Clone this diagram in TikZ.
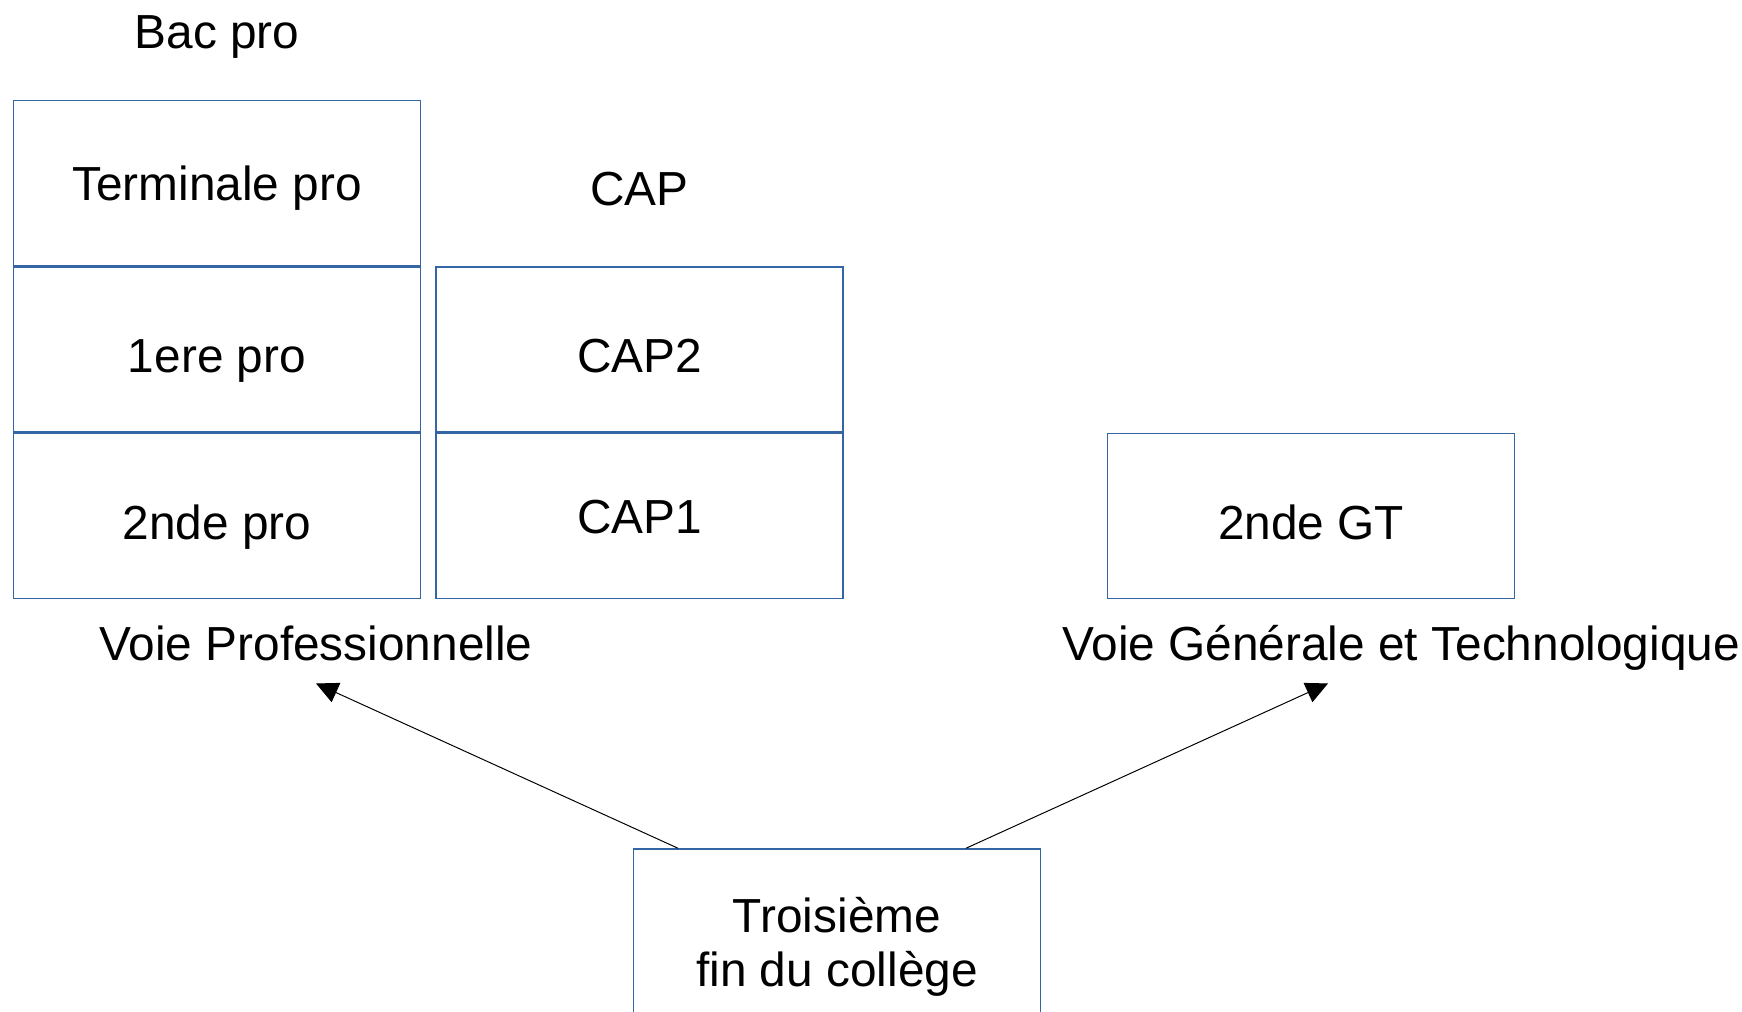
\documentclass[tikz,border=0pt]{standalone}
\usepackage{fontspec}
\setmainfont{Liberation Sans}
\usepackage{tikz}
\usetikzlibrary{positioning,arrows.meta}

\definecolor{boxblue}{HTML}{3465A4}

\begin{document}
\begin{tikzpicture}[font=\fontsize{13.6pt}{15.4pt}\selectfont,
    classe/.style={draw=boxblue, line width=0.43pt, inner sep=0, minimum width=4.07cm, minimum height=1.65cm, text height=0.345cm, text depth=0pt},
    bas/.style={text height=0.465cm},
    lbl/.style={inner sep=0, text height=0.345cm, text depth=0pt},
    fleche/.style={-{Triangle[length=0.22cm, width=0.21cm]}, line width=0.28pt}]
    \useasboundingbox (0,0) rectangle (17.42,-10.11);

    % voie pro : bac pro
    \node[classe] (terminale) at (2.17,-1.83) {Terminale pro};
    \node[classe, bas, below=0cm of terminale] (premiere) {1ere pro};
    \node[classe, bas, below=0cm of premiere] (seconde) {2nde pro};
    \node[lbl, above=0.51cm of terminale] (bacpro) {Bac pro};

    % voie pro : CAP
    \node[classe, bas, right=0.14cm of premiere] (cap2) {CAP2};
    \node[classe, below=0cm of cap2] (cap1) {CAP1};
    \node[lbl, above=0.6cm of cap2] (cap) {CAP};

    % voie generale
    \node[classe, bas, right=2.63cm of cap1] (secondegt) {2nde GT};

    \node[lbl] (voiepro) at (3.16,-6.435) {Voie Professionnelle};
    \node[lbl] (voiegt) at (14.01,-6.435) {Voie Générale et Technologique};

    \node[classe, minimum height=1.96cm, text height=, text depth=, align=center] (troisieme) at (8.37,-9.47) {Troisième\\fin du collège};

    \draw[fleche] ([xshift=-1.59cm]troisieme.north) -- ([yshift=-0.22cm]voiepro.south);
    \draw[fleche] ([xshift=1.29cm]troisieme.north) -- ([xshift=-0.73cm,yshift=-0.22cm]voiegt.south);
\end{tikzpicture}
\end{document}
